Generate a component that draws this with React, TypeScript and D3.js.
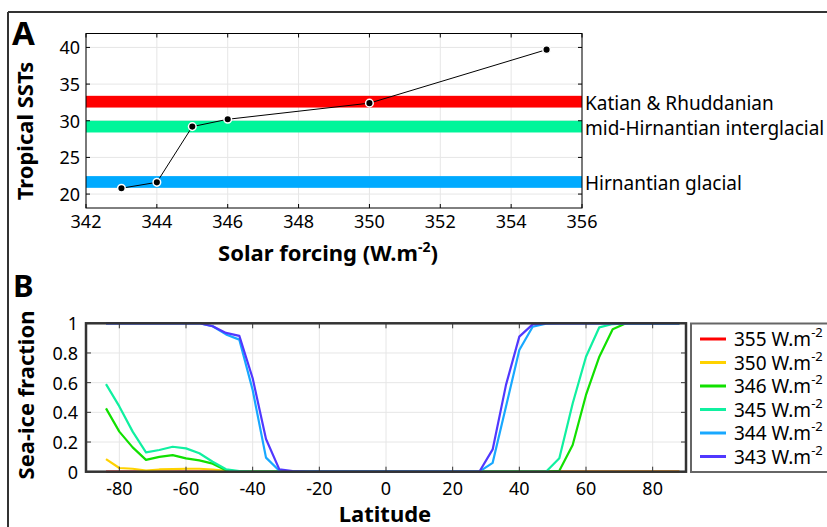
import React from "react";
import * as d3 from "d3";

const solarForcing = [343, 344, 345, 346, 350, 355];
const tropicalSST = [20.8, 21.6, 29.2, 30.2, 32.4, 39.7];

const bandNames = ["Katian & Rhuddanian", "mid-Hirnantian interglacial", "Hirnantian glacial"];
const bandLow = [31.8, 28.4, 20.85];
const bandHigh = [33.4, 30.0, 22.45];
const bandColors = ["#ff0000", "#00f59a", "#00aaff"];

const xTicksA = [342, 344, 346, 348, 350, 352, 354, 356];
const yTicksA = [20, 25, 30, 35, 40];

const latitudes = [-84, -80, -76, -72, -68, -64, -60, -56, -52, -48, -44, -40, -36, -32, -28, -24, -20, -16, -12, -8, -4, 0, 4, 8, 12, 16, 20, 24, 28, 32, 36, 40, 44, 48, 52, 56, 60, 64, 68, 72, 76, 80, 84, 88];

const ice355 = [0, 0, 0, 0, 0, 0, 0, 0, 0, 0, 0, 0, 0, 0, 0, 0, 0, 0, 0, 0, 0, 0, 0, 0, 0, 0, 0, 0, 0, 0, 0, 0, 0, 0, 0, 0, 0, 0, 0, 0, 0, 0, 0, 0];
const ice350 = [0.085, 0.025, 0.02, 0.008, 0.015, 0.018, 0.02, 0.02, 0.015, 0.005, 0, 0, 0, 0, 0, 0, 0, 0, 0, 0, 0, 0, 0, 0, 0, 0, 0, 0, 0, 0, 0, 0, 0, 0, 0, 0, 0, 0, 0, 0, 0, 0, 0, 0];
const ice346 = [0.427, 0.27, 0.164, 0.08, 0.1, 0.112, 0.09, 0.076, 0.054, 0.009, 0.001, 0, 0, 0, 0, 0, 0, 0, 0, 0, 0, 0, 0, 0, 0, 0, 0, 0, 0, 0, 0, 0, 0, 0, 0.006, 0.18, 0.517, 0.775, 0.96, 1, 1, 1, 1, 1];
const ice345 = [0.59, 0.44, 0.27, 0.13, 0.146, 0.168, 0.157, 0.124, 0.067, 0.016, 0.004, 0, 0, 0, 0, 0, 0, 0, 0, 0, 0, 0, 0, 0, 0, 0, 0, 0, 0, 0, 0, 0, 0, 0, 0.09, 0.46, 0.775, 0.973, 0.995, 1, 1, 1, 1, 1];
const ice344 = [1, 1, 1, 1, 1, 1, 1, 1, 0.98, 0.925, 0.89, 0.55, 0.095, 0.006, 0.002, 0, 0, 0, 0, 0, 0, 0, 0, 0, 0, 0, 0, 0, 0, 0.06, 0.44, 0.82, 0.977, 0.997, 1, 1, 1, 1, 1, 1, 1, 1, 1, 1];
const ice343 = [1, 1, 1, 1, 1, 1, 1, 1, 0.98, 0.935, 0.915, 0.63, 0.22, 0.016, 0.004, 0, 0, 0, 0, 0, 0, 0, 0, 0, 0, 0, 0, 0, 0, 0.15, 0.585, 0.91, 0.993, 1, 1, 1, 1, 1, 1, 1, 1, 1, 1, 1];

const seriesNames = ["355", "350", "346", "345", "344", "343"];
const seriesValues = [ice355, ice350, ice346, ice345, ice344, ice343];
const seriesColors = ["#ff0000", "#ffd200", "#11e000", "#10f0a0", "#18a8ff", "#5038ff"];

const xTicksB = [-80, -60, -40, -20, 0, 20, 40, 60, 80];
const yTicksB = [0, 0.2, 0.4, 0.6, 0.8, 1];
const yTickLabelsB = ["0", "0.2", "0.4", "0.6", "0.8", "1"];

const FONT = "'Noto Sans', sans-serif";

export default function App() {
  // Panel A
  const aL = 86, aR = 582, aT = 33.5, aB = 208;
  const xA = d3.scaleLinear().domain([342, 356]).range([aL, aR]);
  const yA = d3.scaleLinear().domain([18.1, 41.9]).range([aB, aT]);
  const lineA = d3.line<number>().x((d, i) => xA(solarForcing[i])).y((d) => yA(d));

  // Panel B
  const bL = 86, bR = 686, bT = 323.3, bB = 471.7;
  const xB = d3.scaleLinear().domain([-90, 90]).range([bL, bR]);
  const yB = d3.scaleLinear().domain([0, 1]).range([bB, bT]);
  const lineB = d3.line<number>().x((d, i) => xB(latitudes[i])).y((d) => yB(d));

  const grid = "#e6e6e6";
  const tick = 4;

  return (
    <svg width={827} height={527} style={{ position: "absolute", left: 0, top: 0 }} fontFamily={FONT}>
      <rect width={827} height={527} fill="#fff" />
      {/* outer frame */}
      <line x1={8} y1={12} x2={827} y2={12} stroke="#333" strokeWidth={2} />
      <line x1={8} y1={12} x2={8} y2={527} stroke="#333" strokeWidth={2} />

      {/* ===== Panel A ===== */}
      <text x={12} y={45} fontSize={33} fontWeight="bold">A</text>
      {xTicksA.map((t) => (
        <line key={"gxa" + t} x1={xA(t)} x2={xA(t)} y1={aT} y2={aB} stroke={grid} strokeWidth={1} />
      ))}
      {yTicksA.map((t) => (
        <line key={"gya" + t} x1={aL} x2={aR} y1={yA(t)} y2={yA(t)} stroke={grid} strokeWidth={1} />
      ))}
      {bandNames.map((n, i) => (
        <rect key={"band" + i} x={aL} width={aR - aL} y={yA(bandHigh[i])} height={yA(bandLow[i]) - yA(bandHigh[i])} fill={bandColors[i]} />
      ))}
      <path d={lineA(tropicalSST) || ""} fill="none" stroke="#000" strokeWidth={1} />
      {tropicalSST.map((v, i) => (
        <circle key={"pt" + i} cx={xA(solarForcing[i])} cy={yA(v)} r={3.8} fill="#000" stroke="#fff" strokeWidth={1.5} />
      ))}
      {/* box */}
      <rect x={aL} y={aT} width={aR - aL} height={aB - aT} fill="none" stroke="#000" strokeWidth={1} />
      {xTicksA.map((t) => (
        <g key={"xta" + t}>
          <line x1={xA(t)} x2={xA(t)} y1={aB} y2={aB - tick} stroke="#000" />
          <line x1={xA(t)} x2={xA(t)} y1={aT} y2={aT + tick} stroke="#000" />
          <text x={xA(t)} y={228} fontSize={18} textAnchor="middle">{t}</text>
        </g>
      ))}
      {yTicksA.map((t) => (
        <g key={"yta" + t}>
          <line x1={aL} x2={aL + tick} y1={yA(t)} y2={yA(t)} stroke="#000" />
          <line x1={aR} x2={aR - tick} y1={yA(t)} y2={yA(t)} stroke="#000" />
          <text x={80} y={yA(t)} fontSize={18} textAnchor="end" dominantBaseline="central">{t}</text>
        </g>
      ))}
      {bandNames.map((n, i) => (
        <text key={"bl" + i} x={585} y={yA((bandLow[i] + bandHigh[i]) / 2) + 1} fontSize={19} dominantBaseline="central">{n}</text>
      ))}
      <text transform={`translate(33,131) rotate(-90)`} fontSize={22} fontWeight="bold" textAnchor="middle">Tropical SSTs</text>
      <text x={328} y={261} fontSize={22} fontWeight="bold" textAnchor="middle">
        Solar forcing (W.m<tspan fontSize={14} dy={-9}>-2</tspan><tspan dy={9}>)</tspan>
      </text>

      {/* ===== Panel B ===== */}
      <text x={13} y={297} fontSize={31} fontWeight="bold">B</text>
      {xTicksB.map((t) => (
        <line key={"gxb" + t} x1={xB(t)} x2={xB(t)} y1={bT} y2={bB} stroke={grid} strokeWidth={1} />
      ))}
      {yTicksB.map((t) => (
        <line key={"gyb" + t} x1={bL} x2={bR} y1={yB(t)} y2={yB(t)} stroke={grid} strokeWidth={1} />
      ))}
      {seriesValues.map((vals, i) => (
        <path key={"s" + i} d={lineB(vals) || ""} fill="none" stroke={seriesColors[i]} strokeWidth={2.2} strokeLinejoin="round" />
      ))}
      {xTicksB.map((t) => (
        <g key={"xtb" + t}>
          <line x1={xB(t)} x2={xB(t)} y1={bB} y2={bB - 5} stroke="#333" strokeWidth={1} />
          <line x1={xB(t)} x2={xB(t)} y1={bT} y2={bT + 5} stroke="#333" strokeWidth={1} />
          <text x={xB(t)} y={495} fontSize={18} textAnchor="middle">{t}</text>
        </g>
      ))}
      {yTicksB.map((t, i) => (
        <g key={"ytb" + t}>
          <line x1={bL} x2={bL + 5} y1={yB(t)} y2={yB(t)} stroke="#333" strokeWidth={1} />
          <line x1={bR} x2={bR - 5} y1={yB(t)} y2={yB(t)} stroke="#333" strokeWidth={1} />
          <text x={78} y={yB(t)} fontSize={18} textAnchor="end" dominantBaseline="central">{yTickLabelsB[i]}</text>
        </g>
      ))}
      <rect x={bL} y={bT} width={bR - bL} height={bB - bT} fill="none" stroke="#333" strokeWidth={2.5} />
      <text transform={`translate(34,395) rotate(-90)`} fontSize={22} fontWeight="bold" textAnchor="middle">Sea-ice fraction</text>
      <text x={385} y={522} fontSize={22} fontWeight="bold" textAnchor="middle">Latitude</text>

      {/* legend */}
      <rect x={691} y={323.5} width={140} height={148.5} fill="#fff" stroke="#666" strokeWidth={2} />
      {seriesNames.map((n, i) => {
        const cy = 339 + i * 23.5;
        return (
          <g key={"lg" + i}>
            <line x1={700} x2={726} y1={cy} y2={cy} stroke={seriesColors[i]} strokeWidth={3} />
            <text x={734} y={cy} fontSize={19} dominantBaseline="central">
              {n} W.m<tspan fontSize={13} dy={-7}>-2</tspan>
            </text>
          </g>
        );
      })}
    </svg>
  );
}
